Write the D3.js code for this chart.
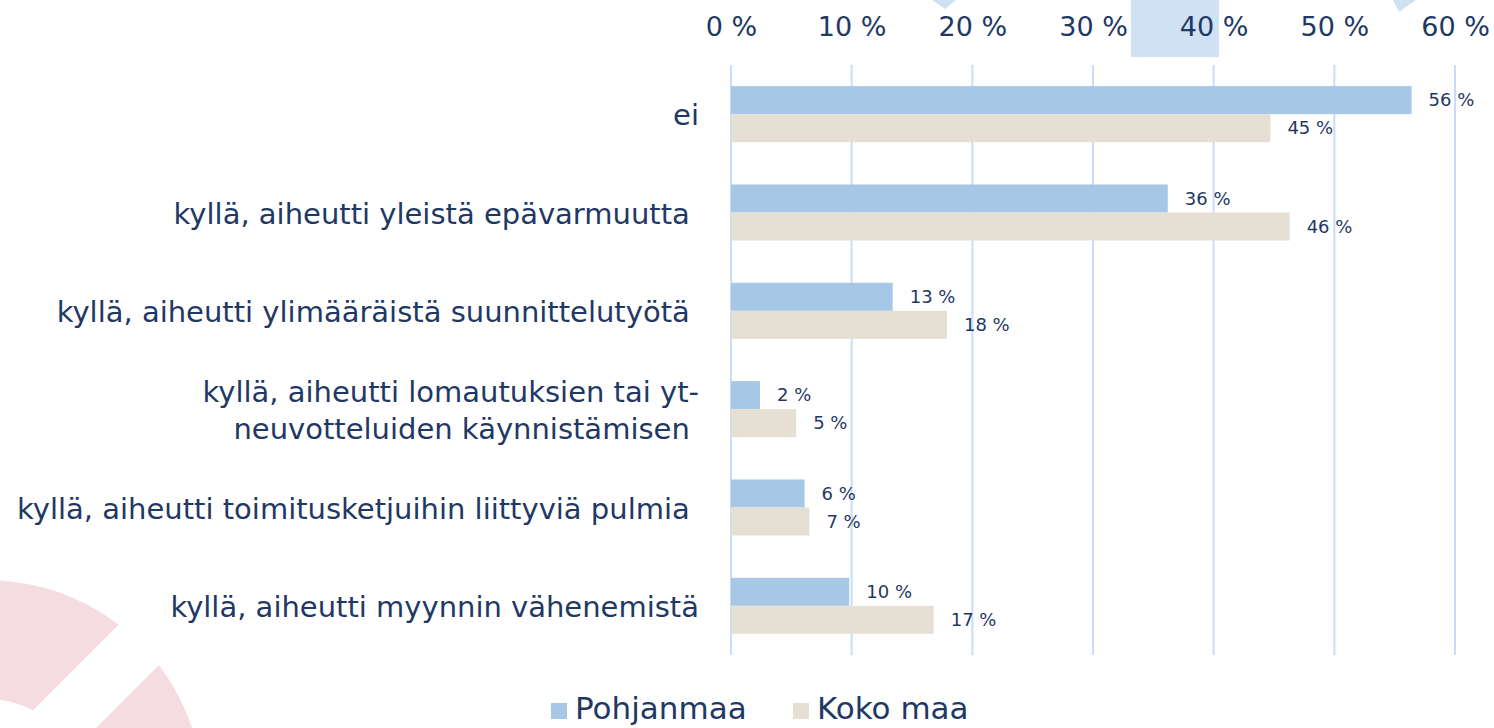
<!DOCTYPE html>
<html>
<head>
<meta charset="utf-8">
<script src="https://cdn.jsdelivr.net/npm/d3@7"></script>
<style>
  body { margin: 0; background: #ffffff; }
  svg { display: block; font-family: "DejaVu Sans", sans-serif; }
  text { white-space: pre; }
</style>
</head>
<body>
<div class="svg-container"></div>
<script>
// chart values
var categories = [
	"ei",
	"kyllä, aiheutti yleistä epävarmuutta ",
	"kyllä, aiheutti ylimääräistä suunnittelutyötä ",
	"kyllä, aiheutti lomautuksien tai yt-\nneuvotteluiden käynnistämisen ",
	"kyllä, aiheutti toimitusketjuihin liittyviä pulmia ",
	"kyllä, aiheutti myynnin vähenemistä"
];
var seriesNames = ["Pohjanmaa", "Koko maa"];
var pohjanmaa = [56.4, 36.2, 13.4, 2.4, 6.1, 9.8];
var kokoMaa = [44.7, 46.3, 17.9, 5.4, 6.5, 16.8];
var tickValues = [0, 10, 20, 30, 40, 50, 60];

var pageWidth = 1494,
	pageHeight = 728;

var margin = { top: 65, left: 731, right: 39, bottom: 73 };
var width = pageWidth - margin.left - margin.right,
	height = pageHeight - margin.top - margin.bottom;

var textColor = "#1f3864",
	gridColor = "#c9dcf8",
	colorList = ["#a6c8e6", "#e6e0d4"],
	pink = "#f5dce1",
	lightBlue = "#cfe2f3";

function plot() {
	var svg = d3.select(".svg-container")
		.append("svg")
		.attr("width", pageWidth)
		.attr("height", pageHeight);

	drawBackground(svg);

	var g = svg.append("g")
		.attr("transform", "translate(" + margin.left + "," + margin.top + ")");

	var xScale = d3.scaleLinear().domain([0, 60]).range([0, width]);
	var yScale = d3.scaleBand().domain(d3.range(categories.length))
		.range([0, height]).paddingInner(0.43).paddingOuter(0.215);
	var subScale = d3.scaleBand().domain([0, 1]).range([0, yScale.bandwidth()]);

	drawAxes(g, xScale, yScale);

	var data = categories.map(function(c, i) {
		return { index: i, values: [pohjanmaa[i], kokoMaa[i]] };
	});

	var groups = g.selectAll(".group").data(data)
		.enter().append("g")
		.attr("class", "group")
		.attr("transform", function(d) { return "translate(0," + yScale(d.index) + ")"; });

	var bars = groups.selectAll(".bar").data(function(d) {
		return d.values.map(function(v, k) { return { k: k, v: v }; });
	}).enter();

	bars.append("rect")
		.attr("class", "bar")
		.attr("x", xScale(0))
		.attr("y", function(d) { return subScale(d.k); })
		.attr("width", function(d) { return xScale(d.v) - xScale(0); })
		.attr("height", subScale.bandwidth())
		.attr("fill", function(d) { return colorList[d.k]; });

	bars.append("text")
		.attr("x", function(d) { return xScale(d.v) + 17; })
		.attr("y", function(d) { return subScale(d.k) + subScale.bandwidth() / 2; })
		.attr("dy", "0.35em")
		.attr("fill", textColor)
		.style("font-size", "18px")
		.text(function(d) { return d3.format(".0f")(d.v) + " %"; });

	drawLegend(svg);
}

function drawAxes(g, xScale, yScale) {
	// vertical gridlines
	g.selectAll(".grid").data(tickValues)
		.enter().append("line")
		.attr("class", "grid")
		.attr("x1", function(d) { return xScale(d); })
		.attr("x2", function(d) { return xScale(d); })
		.attr("y1", 0)
		.attr("y2", height)
		.attr("stroke", gridColor)
		.attr("stroke-width", 2);

	// top axis
	var xAxis = d3.axisTop(xScale).tickValues(tickValues)
		.tickFormat(function(d) { return d + " %"; })
		.tickSize(0).tickPadding(29);
	var ax = g.append("g").call(xAxis);
	ax.select(".domain").remove();
	ax.selectAll("text")
		.attr("fill", textColor)
		.style("font-size", "27px")
		.style("font-family", "DejaVu Sans, sans-serif");

	// category labels
	var labels = g.selectAll(".cat").data(categories)
		.enter().append("text")
		.attr("class", "cat")
		.attr("text-anchor", "end")
		.attr("fill", textColor)
		.style("font-size", "29px")
		.attr("transform", function(d, i) {
			return "translate(-32," + (yScale(i) + yScale.bandwidth() / 2 + 1) + ")";
		});

	labels.each(function(d) {
		var lines = d.split("\n");
		var t = d3.select(this);
		lines.forEach(function(line, j) {
			t.append("tspan")
				.attr("x", 0)
				.attr("y", (j - (lines.length - 1) / 2) * 37)
				.attr("dy", "0.35em")
				.text(line);
		});
	});
}

function drawLegend(svg) {
	var legendX = [551, 793];
	var lg = svg.selectAll(".legend").data(seriesNames)
		.enter().append("g")
		.attr("class", "legend")
		.attr("transform", function(d, i) { return "translate(" + legendX[i] + ",710)"; });

	lg.append("rect")
		.attr("x", 0).attr("y", -7)
		.attr("width", 16).attr("height", 16)
		.attr("fill", function(d, i) { return colorList[i]; });

	// baseline placed so descenders stay inside the picture
	lg.append("text")
		.attr("x", 24)
		.attr("y", 9)
		.attr("fill", textColor)
		.style("font-size", "31px")
		.text(function(d) { return d; });
}

function drawBackground(svg) {
	var bg = svg.append("g").attr("class", "background");

	// pink ring in the lower left corner
	var ring = d3.arc().innerRadius(97).outerRadius(216).startAngle(-Math.PI).endAngle(Math.PI);
	bg.append("path")
		.attr("d", ring())
		.attr("transform", "translate(-13,796)")
		.attr("fill", pink);
	// white gap cutting through it
	bg.append("rect")
		.attr("x", 0).attr("y", -28)
		.attr("width", 260).attr("height", 57)
		.attr("transform", "translate(-13,796) rotate(-45)")
		.attr("fill", "#ffffff");

	// light blue pieces along the top
	bg.append("polygon")
		.attr("points", "932,0 956,0 945,9")
		.attr("fill", lightBlue);
	bg.append("rect")
		.attr("x", 1131).attr("y", 0)
		.attr("width", 88).attr("height", 57)
		.attr("fill", lightBlue);
	bg.append("polygon")
		.attr("points", "1393,0 1416,0 1399,12")
		.attr("fill", lightBlue);
}

plot();
</script>
</body>
</html>
